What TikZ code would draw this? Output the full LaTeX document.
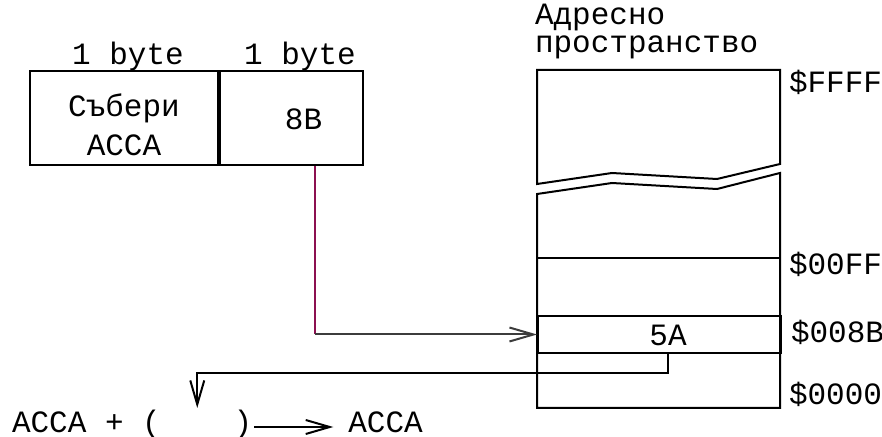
\documentclass[tikz,border=0pt]{standalone}
\usepackage{fontspec}
\setmainfont{Liberation Mono}
\usepackage{tikz}
\newcommand{\lByte}{1 byte}
\newcommand{\lOpcode}{Събери\\ACCA}
\newcommand{\lOperand}{8B}
\newcommand{\lValue}{5A}
\newcommand{\lAddrSpace}{Адресно\\пространство}
\newcommand{\lAddrTop}{\$FFFF}
\newcommand{\lAddrPage}{\$00FF}
\newcommand{\lAddrEff}{\$008B}
\newcommand{\lAddrZero}{\$0000}
\newcommand{\lSumLeft}{ACCA + (}
\newcommand{\lSumRight}{)}
\newcommand{\lAcc}{ACCA}
\usetikzlibrary{arrows.meta, calc}
\definecolor{themePurple}{RGB}{140, 16, 80}
\definecolor{themeGrey}{RGB}{60, 60, 60}

\begin{document}
\begin{tikzpicture} [
        x=0.5pt, y=-0.5pt, line width=1pt,
        font=\fontsize{15.5}{19.5}\selectfont,
        cell/.style={draw, minimum height=47pt, anchor=north west, inner sep=0pt},
        mem cell/.style={draw, minimum width=121.5pt, minimum height=18.5pt, anchor=north west, inner sep=0pt},
        cell text/.style={align=center, inner sep=0pt},
        label byte/.style={anchor=base, inner sep=0pt},
        label addr/.style={anchor=base west, inner sep=0pt},
        label space/.style={anchor=base west, align=left, inner sep=0pt, font=\fontsize{15.5}{14}\selectfont},
        arrow/.style={-{Straight Barb[length=12pt, width=7pt]}},
        addr line/.style={draw=themePurple},
        data line/.style={draw=themeGrey}
    ]

    \useasboundingbox (0,0) rectangle (882,437);

    \path (29,70) node[cell, minimum width=94pt] (op code) {};
    \path (op code.north east) node[cell, minimum width=71.5pt] (op addr) {};
    \path (op code.center) ++(0,7) node[cell text] (op code text) {\lOpcode};
    \path (op addr.center) ++(12,1) node[cell text] (op addr text) {\lOperand};
    \path (op code.north) ++(4,-5) node[label byte] {\lByte};
    \path (op addr.north) ++(8.5,-5) node[label byte] {\lByte};

    \coordinate (mem nw) at (537,70);
    \coordinate (mem se) at (780,408);
    \draw (537,184) -- (mem nw) -- (mem nw-|mem se) -- (780,164) -- (717,179) -- (612,173) -- cycle;
    \draw (537,194) -- (612,183) -- (717,189) -- (780,173) -- (mem se) -- (mem se-|mem nw) -- cycle;
    \draw (537,258) coordinate (page) -- (page-|mem se);
    \path (537,315) node[mem cell] (mem cell) {};
    \path (mem cell.center) ++(8.5,1) node[cell text] (val) {\lValue};

    \path (mem nw) ++(-3,-17) node[label space] {\lAddrSpace};
    \path (mem nw-|mem se) ++(8,22.5) node[label addr] {\lAddrTop};
    \path (page-|mem se) ++(8,17) node[label addr] {\lAddrPage};
    \path (mem cell.east) ++(8,8) node[label addr] {\lAddrEff};
    \path (mem se) ++(8,-3) node[label addr] {\lAddrZero};

    \path (11,432) node[label addr] (sum) {\lSumLeft};
    \path (243,432) node[label byte] (close) {\lSumRight};
    \path (close.base east) ++(94,0) node[label addr] (acc) {\lAcc};
    \coordinate (blank) at ($(sum.base east)!.5!(close.base west)$);

    \coordinate (addr out) at ($(op addr.south)+(23.5,0)$);
    \coordinate (addr bend) at (addr out|-mem cell.west);
    \draw[addr line] (addr out) -- (addr bend);
    \draw[data line, arrow] (addr bend) -- (mem cell.west);

    \coordinate (val out) at (val|-mem cell.south);
    \draw[arrow] (val out) -- ++(0,19) -| ($(blank)+(0,-24)$);
    \draw[arrow] ($(close.base east)+(1,-5)$) -- ($(acc.base west)+(-14,-5)$);

    \end{tikzpicture}
\end{document}
